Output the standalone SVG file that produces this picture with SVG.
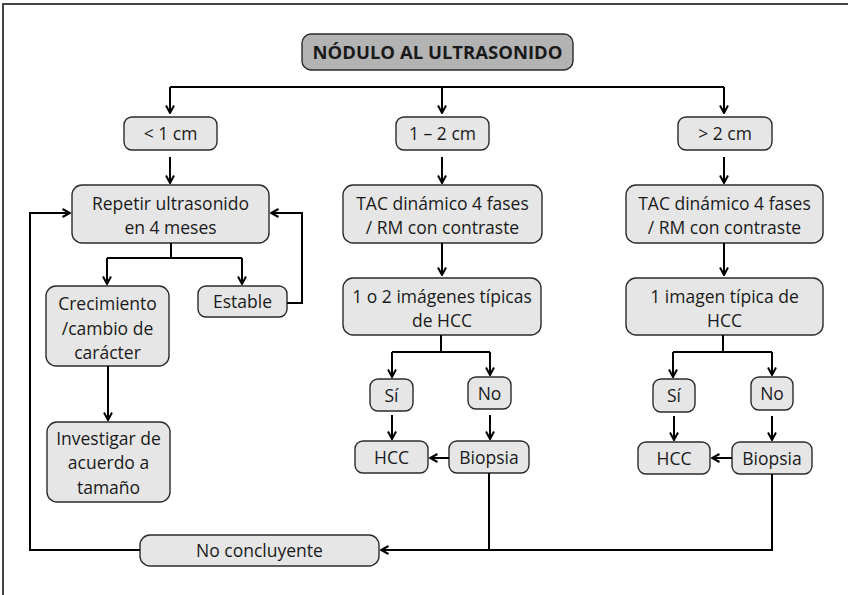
<svg xmlns="http://www.w3.org/2000/svg" width="848" height="595" viewBox="0 0 848 595">
  <style>
    .box { fill: #e6e6e6; stroke: #2b2b2b; stroke-width: 1.4; }
    .title { fill: #b3b3b3; stroke: #2b2b2b; stroke-width: 1.4; }
    text { font-family: "Open Sans", "Noto Sans", sans-serif; font-size: 17.5px; fill: #1a1a1a; text-anchor: middle; }
    .bold { font-weight: bold; font-size: 18.5px; }
    .wire { fill: none; stroke: #000; stroke-width: 2; }
    .frame { fill: none; stroke: #444; stroke-width: 2; }
  </style>
  <defs>
    <marker id="arrow" viewBox="0 0 10 10" refX="9" refY="5" markerWidth="10" markerHeight="10" markerUnits="userSpaceOnUse" orient="auto">
      <path d="M1.5,1 L9,5 L1.5,9" fill="none" stroke="#000" stroke-width="2"/>
    </marker>
  </defs>

  <!-- page frame (open on right and bottom) -->
  <path class="frame" d="M3,595 V4 H848"/>

  <g id="title">
    <rect class="title" x="302" y="34" width="271" height="36" rx="9"/>
    <text class="bold" x="437.5" y="58.5">NÓDULO AL ULTRASONIDO</text>
  </g>

  <!-- size categories -->
  <g id="lt1">
    <rect class="box" x="124" y="117" width="93" height="33" rx="8"/>
    <text x="170.5" y="140">&lt; 1 cm</text>
  </g>
  <g id="r12">
    <rect class="box" x="396" y="117" width="93" height="33" rx="8"/>
    <text x="442.5" y="140">1 – 2 cm</text>
  </g>
  <g id="gt2">
    <rect class="box" x="678" y="117" width="94" height="33" rx="8"/>
    <text x="725" y="140">&gt; 2 cm</text>
  </g>

  <!-- left column -->
  <g id="repetir">
    <rect class="box" x="72" y="185" width="197" height="58" rx="10"/>
    <text x="170.5" y="209.5">Repetir ultrasonido</text>
    <text x="170.5" y="233.5">en 4 meses</text>
  </g>
  <g id="crecimiento">
    <rect class="box" x="46" y="286" width="123" height="80" rx="10"/>
    <text x="107.5" y="309.5">Crecimiento</text>
    <text x="107.5" y="334.5">/cambio de</text>
    <text x="107.5" y="359">carácter</text>
  </g>
  <g id="estable">
    <rect class="box" x="198" y="286" width="89" height="31" rx="8"/>
    <text x="242.5" y="308">Estable</text>
  </g>
  <g id="investigar">
    <rect class="box" x="47" y="422" width="123" height="80" rx="10"/>
    <text x="108.5" y="444.5">Investigar de</text>
    <text x="108.5" y="469">acuerdo a</text>
    <text x="108.5" y="493.5">tamaño</text>
  </g>
  <g id="noconcluyente">
    <rect class="box" x="140" y="535" width="239" height="31" rx="10"/>
    <text x="259.5" y="556.5">No concluyente</text>
  </g>

  <!-- middle column -->
  <g id="tac-mid">
    <rect class="box" x="343" y="185" width="199" height="58" rx="10"/>
    <text x="442.5" y="209.5">TAC dinámico 4 fases</text>
    <text x="442.5" y="233.5">/ RM con contraste</text>
  </g>
  <g id="img-mid">
    <rect class="box" x="343" y="278" width="198" height="57" rx="10"/>
    <text x="442" y="302.5">1 o 2 imágenes típicas</text>
    <text x="442" y="326.5">de HCC</text>
  </g>
  <g id="si-mid">
    <rect class="box" x="370" y="379" width="43" height="32" rx="8"/>
    <text x="391.5" y="401.5">Sí</text>
  </g>
  <g id="no-mid">
    <rect class="box" x="468" y="377" width="43" height="32" rx="8"/>
    <text x="489.5" y="399.5">No</text>
  </g>
  <g id="hcc-mid">
    <rect class="box" x="355" y="441" width="73" height="32" rx="8"/>
    <text x="391.5" y="463.5">HCC</text>
  </g>
  <g id="biopsia-mid">
    <rect class="box" x="449" y="441" width="80" height="32" rx="8"/>
    <text x="489" y="463.5">Biopsia</text>
  </g>

  <!-- right column -->
  <g id="tac-right">
    <rect class="box" x="626" y="185" width="197" height="58" rx="10"/>
    <text x="724.5" y="209.5">TAC dinámico 4 fases</text>
    <text x="724.5" y="233.5">/ RM con contraste</text>
  </g>
  <g id="img-right">
    <rect class="box" x="626" y="278" width="197" height="57" rx="10"/>
    <text x="724.5" y="302.5">1 imagen típica de</text>
    <text x="724.5" y="326.5">HCC</text>
  </g>
  <g id="si-right">
    <rect class="box" x="653" y="379" width="42" height="33" rx="8"/>
    <text x="674" y="401.5">Sí</text>
  </g>
  <g id="no-right">
    <rect class="box" x="751" y="377" width="42" height="33" rx="8"/>
    <text x="772" y="399.5">No</text>
  </g>
  <g id="hcc-right">
    <rect class="box" x="638" y="442" width="72" height="32" rx="8"/>
    <text x="674" y="464.5">HCC</text>
  </g>
  <g id="biopsia-right">
    <rect class="box" x="732" y="442" width="80" height="32" rx="8"/>
    <text x="772" y="464.5">Biopsia</text>
  </g>

  <!-- connectors -->
  <g id="connectors">
    <path class="wire" d="M170,87 H724"/>
    <path class="wire" marker-end="url(#arrow)" d="M170,87 V113"/>
    <path class="wire" marker-end="url(#arrow)" d="M442,87 V113"/>
    <path class="wire" marker-end="url(#arrow)" d="M724,87 V113"/>

    <path class="wire" marker-end="url(#arrow)" d="M170,157 V183"/>
    <path class="wire" marker-end="url(#arrow)" d="M442,157 V183"/>
    <path class="wire" marker-end="url(#arrow)" d="M724,157 V183"/>

    <!-- left branch -->
    <path class="wire" d="M171,243 V258 M107,258 H242"/>
    <path class="wire" marker-end="url(#arrow)" d="M107,258 V284"/>
    <path class="wire" marker-end="url(#arrow)" d="M242,258 V284"/>
    <path class="wire" marker-end="url(#arrow)" d="M287,303 H302 V213 H271"/>
    <path class="wire" marker-end="url(#arrow)" d="M108,366 V420"/>
    <path class="wire" marker-end="url(#arrow)" d="M140,550 H30 V213 H70"/>

    <!-- middle branch -->
    <path class="wire" marker-end="url(#arrow)" d="M442,243 V275"/>
    <path class="wire" d="M441,335 V352 M392,352 H490"/>
    <path class="wire" marker-end="url(#arrow)" d="M392,352 V377"/>
    <path class="wire" marker-end="url(#arrow)" d="M490,352 V375"/>
    <path class="wire" marker-end="url(#arrow)" d="M392,415 V439"/>
    <path class="wire" marker-end="url(#arrow)" d="M490,415 V439"/>
    <path class="wire" marker-end="url(#arrow)" d="M449,458 H430"/>
    <path class="wire" d="M489,473 V550"/>

    <!-- right branch -->
    <path class="wire" marker-end="url(#arrow)" d="M724,243 V275"/>
    <path class="wire" d="M723,335 V352 M673,352 H772"/>
    <path class="wire" marker-end="url(#arrow)" d="M673,352 V377"/>
    <path class="wire" marker-end="url(#arrow)" d="M772,352 V375"/>
    <path class="wire" marker-end="url(#arrow)" d="M674,416 V440"/>
    <path class="wire" marker-end="url(#arrow)" d="M772,416 V440"/>
    <path class="wire" marker-end="url(#arrow)" d="M732,458 H712"/>
    <path class="wire" marker-end="url(#arrow)" d="M772,474 V550 H381"/>
  </g>
</svg>
